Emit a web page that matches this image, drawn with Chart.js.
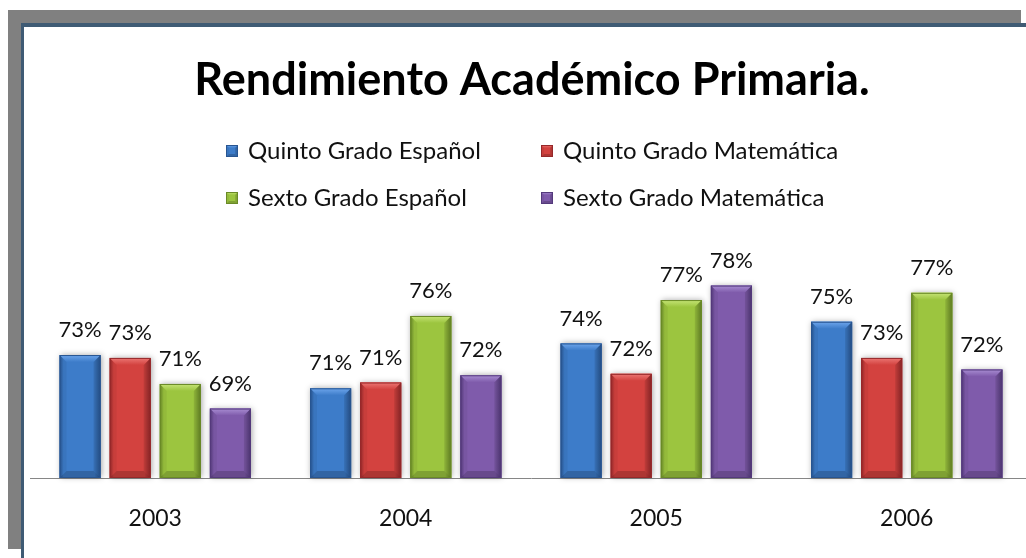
<!DOCTYPE html>
<html>
<head>
<meta charset="utf-8">
<script src="https://cdn.jsdelivr.net/npm/chart.js@4.4.1/dist/chart.umd.min.js"></script>
<style>
  html, body { margin: 0; padding: 0; background: #fff; overflow: hidden; }
  body { width: 1026px; height: 558px; position: relative; }
  .fr { position: absolute; }
  .gray { background: #808080; }
  .blue { background: #3f5b74; }
  #wrap { position: absolute; left: 0; top: 0; width: 1034px; height: 558px; }
</style>
</head>
<body>
<div class="fr gray" style="left:8px;top:10px;width:1013px;height:13px;"></div>
<div class="fr gray" style="left:8px;top:10px;width:13px;height:539px;"></div>
<div class="fr blue" style="left:21px;top:23px;width:1005px;height:4px;"></div>
<div class="fr blue" style="left:21px;top:23px;width:3px;height:535px;"></div>
<div id="wrap"><canvas id="chart" width="1034" height="558"></canvas></div>
<script>
// Rendimiento academico - bar chart with beveled bars (Excel 2007 look)

const years = ['2003', '2004', '2005', '2006'];
const seriesNames = ['Quinto Grado Español', 'Quinto Grado Matemática', 'Sexto Grado Español', 'Sexto Grado Matemática'];
// values (labels show them rounded)
const quintoEspanol = [73.0, 70.7, 73.8, 75.3];
const quintoMatematica = [72.8, 71.1, 71.7, 72.8];
const sextoEspanol = [71.0, 75.7, 76.8, 77.3];
const sextoMatematica = [69.3, 71.6, 77.8, 72.0];

const yMin = 64.5;
const yMax = 79.5;

const palette = [
  { base: '#3d7cc9', light: '#6ea6ec', dark: '#285591' },
  { base: '#d3423f', light: '#ec7774', dark: '#96282a' },
  { base: '#9cc53f', light: '#c6e477', dark: '#6a8a27' },
  { base: '#7f5bab', light: '#a98ed3', dark: '#543a7c' },
];

const FONT = 'Lato, "Open Sans", sans-serif';

// draws a beveled block like the office 2007 bar style
function bevelRect(ctx, left, top, w, h, col, e) {
  const g = ctx.createLinearGradient(left, 0, left + w, 0);
  g.addColorStop(0, col.dark);
  g.addColorStop(0.1, col.base);
  g.addColorStop(0.85, col.base);
  g.addColorStop(1, col.dark);
  ctx.fillStyle = g;
  ctx.fillRect(left, top, w, h);

  // top bevel (light)
  const tg = ctx.createLinearGradient(0, top, 0, top + e);
  tg.addColorStop(0, col.light);
  tg.addColorStop(1, col.base);
  ctx.fillStyle = tg;
  ctx.beginPath();
  ctx.moveTo(left, top);
  ctx.lineTo(left + w, top);
  ctx.lineTo(left + w - e, top + e);
  ctx.lineTo(left + e, top + e);
  ctx.closePath();
  ctx.fill();

  // bottom bevel (dark)
  ctx.fillStyle = 'rgba(0,0,0,0.18)';
  ctx.beginPath();
  ctx.moveTo(left, top + h);
  ctx.lineTo(left + w, top + h);
  ctx.lineTo(left + w - e, top + h - e);
  ctx.lineTo(left + e, top + h - e);
  ctx.closePath();
  ctx.fill();

  // side bevels
  ctx.fillStyle = 'rgba(0,0,0,0.12)';
  ctx.beginPath();
  ctx.moveTo(left + w, top);
  ctx.lineTo(left + w, top + h);
  ctx.lineTo(left + w - e, top + h - e);
  ctx.lineTo(left + w - e, top + e);
  ctx.closePath();
  ctx.fill();
  ctx.fillStyle = 'rgba(0,0,0,0.05)';
  ctx.beginPath();
  ctx.moveTo(left, top);
  ctx.lineTo(left, top + h);
  ctx.lineTo(left + e, top + h - e);
  ctx.lineTo(left + e, top + e);
  ctx.closePath();
  ctx.fill();

  ctx.strokeStyle = col.dark;
  ctx.lineWidth = 1;
  ctx.strokeRect(left + 0.5, top + 0.5, w - 1, h - 1);
}

function barBox(chart, bar) {
  const bottom = Math.min(bar.base, chart.chartArea.bottom);
  return { left: bar.x - bar.width / 2, top: bar.y, w: bar.width, h: bottom - bar.y };
}

const barStyle = {
  id: 'barStyle',
  beforeDatasetsDraw(chart) {
    const ctx = chart.ctx;
    ctx.save();
    chart.data.datasets.forEach((ds, di) => {
      chart.getDatasetMeta(di).data.forEach(bar => {
        const b = barBox(chart, bar);
        ctx.shadowColor = 'rgba(0,0,0,0.35)';
        ctx.shadowBlur = 6;
        ctx.shadowOffsetX = 1;
        ctx.fillStyle = '#fff';
        ctx.fillRect(b.left, b.top, b.w, b.h - 1);
      });
    });
    ctx.restore();
  },
  afterDatasetsDraw(chart) {
    const ctx = chart.ctx;
    ctx.save();
    chart.data.datasets.forEach((ds, di) => {
      const col = palette[di];
      chart.getDatasetMeta(di).data.forEach((bar, i) => {
        const b = barBox(chart, bar);
        bevelRect(ctx, b.left, b.top, b.w, b.h, col, 7);
        // value label
        ctx.fillStyle = '#111';
        ctx.font = '22px ' + FONT;
        ctx.textAlign = 'center';
        ctx.textBaseline = 'middle';
        ctx.fillText(Math.round(ds.data[i]) + '%', bar.x, bar.y - 25);
      });
    });
    ctx.restore();
  }
};

// title and 2x2 legend drawn on the canvas
const headerPlugin = {
  id: 'header',
  afterDraw(chart) {
    const ctx = chart.ctx;
    ctx.save();
    ctx.fillStyle = '#000';
    ctx.font = 'bold 45px ' + FONT;
    ctx.textAlign = 'center';
    ctx.textBaseline = 'middle';
    ctx.fillText('Rendimiento Académico Primaria.', 532, 80);

    const colX = [226, 541];
    const rowY = [151, 198];
    chart.data.datasets.forEach((ds, di) => {
      const x = colX[di % 2];
      const y = rowY[Math.floor(di / 2)];
      bevelRect(ctx, x, y - 6, 12, 12, palette[di], 3);
      ctx.fillStyle = '#111';
      ctx.font = '24px ' + FONT;
      ctx.textAlign = 'left';
      ctx.textBaseline = 'middle';
      ctx.fillText(ds.label, x + 22, y);
    });
    ctx.restore();
  }
};

const values = [quintoEspanol, quintoMatematica, sextoEspanol, sextoMatematica];

new Chart(document.getElementById('chart'), {
  type: 'bar',
  data: {
    labels: years,
    datasets: seriesNames.map((name, i) => ({
      label: name,
      data: values[i],
      base: yMin,
      backgroundColor: palette[i].base,
      borderWidth: 0,
      barPercentage: 0.82,
      categoryPercentage: 0.8,
    })),
  },
  options: {
    responsive: false,
    animation: false,
    layout: { padding: { left: 30, right: 2, top: 261, bottom: 0 } },
    plugins: {
      legend: { display: false },
      title: { display: false },
      tooltip: { enabled: false },
    },
    scales: {
      x: {
        grid: { display: false, drawTicks: false },
        border: { display: true, color: '#868686', width: 1 },
        ticks: { color: '#111', font: { family: FONT, size: 23 }, padding: 27 },
        afterFit(scale) { scale.height = 80; },
      },
      y: {
        display: false,
        min: yMin,
        max: yMax,
      },
    },
  },
  plugins: [barStyle, headerPlugin],
});
</script>
</body>
</html>
